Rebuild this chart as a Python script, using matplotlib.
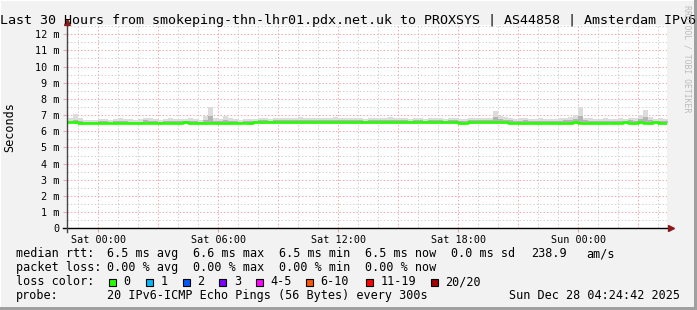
#/usr/bin/python3

import matplotlib.pyplot as plt
import numpy as np
from matplotlib.lines import Line2D
from matplotlib.patches import Rectangle

""" END IMPORTS """

# time axis: hours relative to Sat 00:00, one bin every 15 minutes

start_hour = -1.5
step_hours = 0.25
t_begin = -1.5875     # Fri 22:24:42
t_end = 28.4117       # Sun 04:24:42

# median rtt (ms)

median = [
    6.56, 6.55, 6.50, 6.49, 6.49, 6.50, 6.53, 6.54, 6.54, 6.53,
    6.54, 6.54, 6.53, 6.49, 6.50, 6.53, 6.54, 6.54, 6.53, 6.54,
    6.53, 6.50, 6.54, 6.55, 6.54, 6.54, 6.50, 6.52, 6.54, 6.53,
    6.49, 6.50, 6.52, 6.53, 6.54, 6.54, 6.53, 6.55, 6.56, 6.55,
    6.56, 6.55, 6.56, 6.57, 6.58, 6.57, 6.56, 6.58, 6.57, 6.58,
    6.57, 6.58, 6.56, 6.57, 6.58, 6.57, 6.56, 6.58, 6.57, 6.55,
    6.56, 6.58, 6.57, 6.56, 6.57, 6.58, 6.57, 6.56, 6.57, 6.56,
    6.55, 6.56, 6.57, 6.56, 6.55, 6.56, 6.57, 6.55, 6.49, 6.52,
    6.55, 6.56, 6.57, 6.56, 6.55, 6.56, 6.55, 6.56, 6.53, 6.54,
    6.53, 6.52, 6.54, 6.53, 6.52, 6.54, 6.53, 6.50, 6.52, 6.53,
    6.54, 6.55, 6.54, 6.53, 6.52, 6.49, 6.50, 6.53, 6.54, 6.53,
    6.54, 6.55, 6.54, 6.53, 6.55, 6.54, 6.52, 6.55, 6.53, 6.53,
]

# smoke: max ping, upper inner ping, min ping (ms)

smoke_hi = [
    6.80, 7.05, 6.85, 6.72, 6.70, 6.72, 6.76, 6.74, 6.72, 6.78,
    6.80, 6.76, 6.74, 6.72, 6.74, 6.82, 6.80, 6.76, 6.72, 6.74,
    6.80, 6.78, 6.74, 6.76, 6.80, 6.74, 6.72, 6.95, 7.52, 6.80,
    6.78, 6.92, 6.80, 6.74, 6.72, 6.76, 6.74, 6.78, 6.80, 6.82,
    6.78, 6.80, 6.84, 6.82, 6.80, 6.84, 6.86, 6.82, 6.80, 6.84,
    6.82, 6.80, 6.84, 6.86, 6.82, 6.80, 6.82, 6.84, 6.80, 6.78,
    6.82, 6.84, 6.80, 6.82, 6.86, 6.84, 6.80, 6.82, 6.78, 6.80,
    6.82, 6.78, 6.80, 6.84, 6.80, 6.78, 6.82, 6.80, 6.76, 6.78,
    6.80, 6.82, 6.84, 6.80, 6.82, 7.27, 6.92, 6.86, 6.80, 6.78,
    6.80, 6.82, 6.78, 6.76, 6.80, 6.78, 6.76, 6.74, 6.80, 6.82,
    6.86, 7.00, 7.52, 6.84, 6.80, 6.76, 6.78, 6.80, 6.78, 6.76,
    6.80, 6.78, 6.82, 6.80, 6.98, 7.30, 6.86, 6.78, 6.80, 6.76,
]

smoke_mid = [
    6.66, 6.72, 6.62, 6.58, 6.58, 6.60, 6.64, 6.62, 6.60, 6.64,
    6.66, 6.62, 6.60, 6.58, 6.60, 6.68, 6.66, 6.62, 6.60, 6.62,
    6.66, 6.64, 6.62, 6.64, 6.66, 6.62, 6.60, 6.70, 6.95, 6.66,
    6.64, 6.72, 6.66, 6.62, 6.60, 6.64, 6.62, 6.66, 6.68, 6.70,
    6.66, 6.68, 6.70, 6.70, 6.68, 6.72, 6.72, 6.70, 6.68, 6.72,
    6.70, 6.68, 6.70, 6.72, 6.70, 6.68, 6.70, 6.72, 6.68, 6.66,
    6.70, 6.72, 6.68, 6.70, 6.72, 6.72, 6.68, 6.70, 6.66, 6.68,
    6.70, 6.66, 6.68, 6.72, 6.68, 6.66, 6.70, 6.68, 6.62, 6.64,
    6.68, 6.70, 6.72, 6.68, 6.70, 6.90, 6.74, 6.72, 6.68, 6.66,
    6.66, 6.68, 6.66, 6.64, 6.66, 6.66, 6.64, 6.62, 6.66, 6.68,
    6.72, 6.78, 6.92, 6.70, 6.66, 6.62, 6.64, 6.66, 6.64, 6.62,
    6.66, 6.64, 6.68, 6.66, 6.76, 6.90, 6.72, 6.64, 6.66, 6.62,
]

smoke_lo = [
    6.44, 6.42, 6.40, 6.38, 6.39, 6.40, 6.42, 6.43, 6.42, 6.41,
    6.43, 6.42, 6.41, 6.38, 6.39, 6.42, 6.43, 6.42, 6.41, 6.42,
    6.42, 6.39, 6.42, 6.43, 6.42, 6.41, 6.38, 6.40, 6.42, 6.41,
    6.38, 6.39, 6.40, 6.42, 6.42, 6.43, 6.41, 6.43, 6.44, 6.43,
    6.44, 6.43, 6.44, 6.45, 6.46, 6.45, 6.44, 6.46, 6.45, 6.46,
    6.45, 6.46, 6.44, 6.45, 6.46, 6.45, 6.44, 6.46, 6.45, 6.43,
    6.44, 6.46, 6.45, 6.44, 6.45, 6.46, 6.45, 6.44, 6.45, 6.44,
    6.43, 6.44, 6.45, 6.44, 6.43, 6.44, 6.45, 6.43, 6.38, 6.40,
    6.43, 6.44, 6.45, 6.44, 6.43, 6.44, 6.43, 6.44, 6.42, 6.42,
    6.41, 6.40, 6.42, 6.41, 6.40, 6.42, 6.41, 6.39, 6.40, 6.41,
    6.42, 6.43, 6.42, 6.41, 6.40, 6.38, 6.39, 6.41, 6.42, 6.41,
    6.42, 6.43, 6.42, 6.41, 6.43, 6.42, 6.40, 6.43, 6.41, 6.41,
]

# axis labels and legend

y_ticks = list(range(13))
y_labels = ['0'] + ['%d m' % v for v in range(1, 13)]
x_ticks = [0, 6, 12, 18, 24]
x_labels = ['Sat 00:00', 'Sat 06:00', 'Sat 12:00', 'Sat 18:00', 'Sun 00:00']

title = 'Last 30 Hours from smokeping-thn-lhr01.pdx.net.uk to PROXSYS | AS44858 | Amsterdam IPv6'
rtt_row = ['median rtt:', '6.5 ms avg', '6.6 ms max', '6.5 ms min', '6.5 ms now',
           '0.0 ms sd', '238.9', 'am/s']
loss_row = ['packet loss:', '0.00 % avg', '0.00 % max', '0.00 % min', '0.00 % now']
loss_names = ['0', '1', '2', '3', '4-5', '6-10', '11-19', '20/20']
loss_colors = ['#26ff00', '#00b8ff', '#0059ff', '#7e00ff', '#ff00ff',
               '#ff5500', '#ff0000', '#a10000']
probe_text = '20 IPv6-ICMP Echo Pings (56 Bytes) every 300s'
stamp = 'Sun Dec 28 04:24:42 2025'

# pixel helpers (figure is 697 x 310 px)

W, H = 697, 310


def fx(x):
    return x / W


def fy(y):
    return 1 - y / H


plt.rcParams['font.family'] = ['DejaVu Sans Mono']

fig = plt.figure(figsize=(W / 100, H / 100), dpi=100, facecolor='#F2F2F2')

# 3D-ish frame

fig.add_artist(Rectangle((0, fy(1)), 1, 1 / H, transform=fig.transFigure, color='white', lw=0))
fig.add_artist(Rectangle((0, 0), 1 / W, 1, transform=fig.transFigure, color='white', lw=0))
fig.add_artist(Rectangle((fx(694), 0), 3 / W, 1, transform=fig.transFigure, color='#A0A0A0', lw=0))
fig.add_artist(Rectangle((0, 0), 1, 3 / H, transform=fig.transFigure, color='#A0A0A0', lw=0))

x0, x1 = 66.7, 666.7
ytop, ybot = 25.0, 228.3
ax = fig.add_axes([fx(x0), fy(ybot), fx(x1 - x0), (ybot - ytop) / H])
ax.set_facecolor('white')
for s in ax.spines.values():
    s.set_visible(False)

ax.set_xlim(t_begin, t_end)
ax.set_ylim(0, 12.57)

# grid (dotted, 1px)

grid_minor = '#D0D0D0'
grid_major = '#F0AAAA'
dots = (1.4, 2.0)

for h in range(-1, 29):
    if h % 3 == 0:
        continue
    ax.axvline(h, color=grid_minor, lw=0.72, dashes=dots, zorder=0)
for h in range(0, 29, 3):
    ax.axvline(h, color=grid_major, lw=0.72, dashes=dots, zorder=0)
for v in np.arange(0.5, 12.6, 1.0):
    ax.axhline(v, color=grid_minor, lw=0.72, dashes=dots, zorder=0)
for v in range(1, 13):
    ax.axhline(v, color=grid_major, lw=0.72, dashes=dots, zorder=0)

# smoke and median

n = len(median)
t = start_hour + step_hours * np.arange(n + 1)
med = np.append(median, median[-1])
hi = np.append(smoke_hi, smoke_hi[-1])
mid = np.append(smoke_mid, smoke_mid[-1])
lo = np.append(smoke_lo, smoke_lo[-1])

ax.fill_between(t, lo, hi, step='post', color='#DCDCDC', lw=0, zorder=1)
ax.fill_between(t, med, mid, step='post', color='#B4B4B4', lw=0, zorder=2)
ax.step(t, med, where='post', color=loss_colors[0], lw=1.9, zorder=3)

# ticks

ax.set_yticks(y_ticks)
ax.set_yticklabels(y_labels, fontsize=7.3)
ax.set_xticks(x_ticks)
ax.set_xticklabels(x_labels, fontsize=7.3)
ax.tick_params(axis='y', length=3, color=grid_major, pad=2)
ax.tick_params(axis='x', length=3, color=grid_major, pad=1.5)

# axis lines with arrows

fig.add_artist(Line2D([fx(62.7), fx(669)], [fy(ybot), fy(ybot)], color='black', lw=1))
fig.add_artist(Line2D([fx(x0), fx(x0)], [fy(231.7), fy(24)], color='#444444', lw=1))
fig.add_artist(Line2D([fx(671)], [fy(ybot)], marker='>', color='#8B1A1A', ms=4, lw=0))
fig.add_artist(Line2D([fx(x0)], [fy(22)], marker='^', color='#8B1A1A', ms=4, lw=0))

# texts

fig.text(fx(347.5), fy(24), title, ha='center', va='baseline', fontsize=9.6)
fig.text(fx(686.7), fy(5), 'RRDTOOL / TOBI OETIKER', rotation=270, ha='center',
         va='top', fontsize=5.9, color='#BBBBBB')
fig.text(fx(10), fy(127.5), 'Seconds', rotation=90, ha='center', va='center', fontsize=8.5)

rtt_x = [16, 107.3, 193.3, 279.3, 365, 451, 530.7, 586]
for x, s in zip(rtt_x, rtt_row):
    fig.text(fx(x), fy(257.3), s, va='baseline', fontsize=8.5)

for x, s in zip(rtt_x, loss_row):
    fig.text(fx(x), fy(271.3), s, va='baseline', fontsize=8.5)

fig.text(fx(16), fy(285.3), 'loss color:', va='baseline', fontsize=8.5)
box_x = [108.7, 145.7, 182.7, 219.3, 256, 306, 365.7, 430.7]
for x, c, s in zip(box_x, loss_colors, loss_names):
    fig.add_artist(Rectangle((fx(x), fy(285.5)), 7 / W, 7 / H, transform=fig.transFigure,
                             facecolor=c, edgecolor='black', lw=0.8))
    fig.text(fx(x + 14.5), fy(285.3), s, va='baseline', fontsize=8.5)

fig.text(fx(16), fy(299.3), 'probe:', va='baseline', fontsize=8.5)
fig.text(fx(107.3), fy(299.3), probe_text, va='baseline', fontsize=8.5)
fig.text(fx(680), fy(299.3), stamp, ha='right', va='baseline', fontsize=8.5)

# Save the plot

fig.savefig('out.png', dpi=100, facecolor=fig.get_facecolor())
